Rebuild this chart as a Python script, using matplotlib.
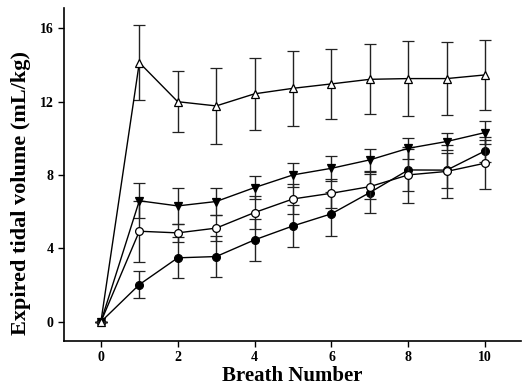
import numpy as np
import matplotlib.pyplot as plt

plt.rcParams['font.family'] = ['Liberation Serif', 'DejaVu Serif']
plt.rcParams['font.weight'] = 'bold'

breaths = np.arange(0, 11)

# mean expired tidal volume (mL/kg) and error per group
filled_circle = [0, 2.03, 3.49, 3.56, 4.47, 5.23, 5.89, 7.05, 8.28, 8.27, 9.32]
filled_circle_err = [0, 0.72, 1.11, 1.13, 1.13, 1.13, 1.19, 1.13, 1.14, 0.95, 0.6]

open_circle = [0, 4.94, 4.85, 5.11, 5.96, 6.70, 7.01, 7.37, 8.01, 8.20, 8.65]
open_circle_err = [0, 1.65, 0.5, 0.7, 0.9, 0.8, 0.8, 0.7, 1.54, 1.45, 1.4]

down_tri = [0, 6.60, 6.32, 6.56, 7.32, 8.01, 8.37, 8.83, 9.46, 9.83, 10.32]
down_tri_err = [0, 0.95, 0.97, 0.76, 0.65, 0.67, 0.68, 0.6, 0.58, 0.45, 0.63]

up_tri = [0, 14.13, 12.0, 11.77, 12.43, 12.73, 12.97, 13.22, 13.26, 13.26, 13.46]
up_tri_err = [0, 2.05, 1.67, 2.05, 1.97, 2.05, 1.9, 1.9, 2.05, 2.0, 1.9]

fig = plt.figure(figsize=(5.22, 3.87), dpi=100)
ax = fig.add_axes([0.1226, 0.119, 0.876, 0.86])

common = dict(color='black', ecolor='#222222', elinewidth=1.0, capsize=4.3,
              capthick=1.0, linewidth=1.0, markeredgewidth=0.9)

ax.errorbar(breaths, filled_circle, yerr=filled_circle_err, marker='o', markersize=5.6,
            markerfacecolor='black', markeredgecolor='black', zorder=2, **common)
ax.errorbar(breaths, open_circle, yerr=open_circle_err, marker='o', markersize=5.6,
            markerfacecolor='white', markeredgecolor='black', zorder=3, **common)
ax.errorbar(breaths, down_tri, yerr=down_tri_err, marker='v', markersize=6,
            markerfacecolor='black', markeredgecolor='black', zorder=4, **common)
ax.errorbar(breaths, up_tri, yerr=up_tri_err, marker='^', markersize=6,
            markerfacecolor='white', markeredgecolor='black', zorder=5, **common)

ax.set_xlim(-0.96, 10.94)
ax.set_ylim(-1.04, 17.1)
ax.set_xticks([0, 2, 4, 6, 8, 10])
ax.set_yticks([0, 4, 8, 12, 16])

ax.spines['top'].set_visible(False)
ax.spines['right'].set_visible(False)
ax.spines['left'].set_linewidth(1.2)
ax.spines['bottom'].set_linewidth(1.2)
ax.tick_params(direction='out', length=4, width=1.0, labelsize=10)

ax.set_xlabel('Breath Number', fontsize=15, fontweight='bold', labelpad=1)
ax.set_ylabel('Expired tidal volume (mL/kg)', fontsize=16, fontweight='bold')
ax.yaxis.set_label_coords(-0.073, 0.445)

fig.savefig('out.png', dpi=100)
